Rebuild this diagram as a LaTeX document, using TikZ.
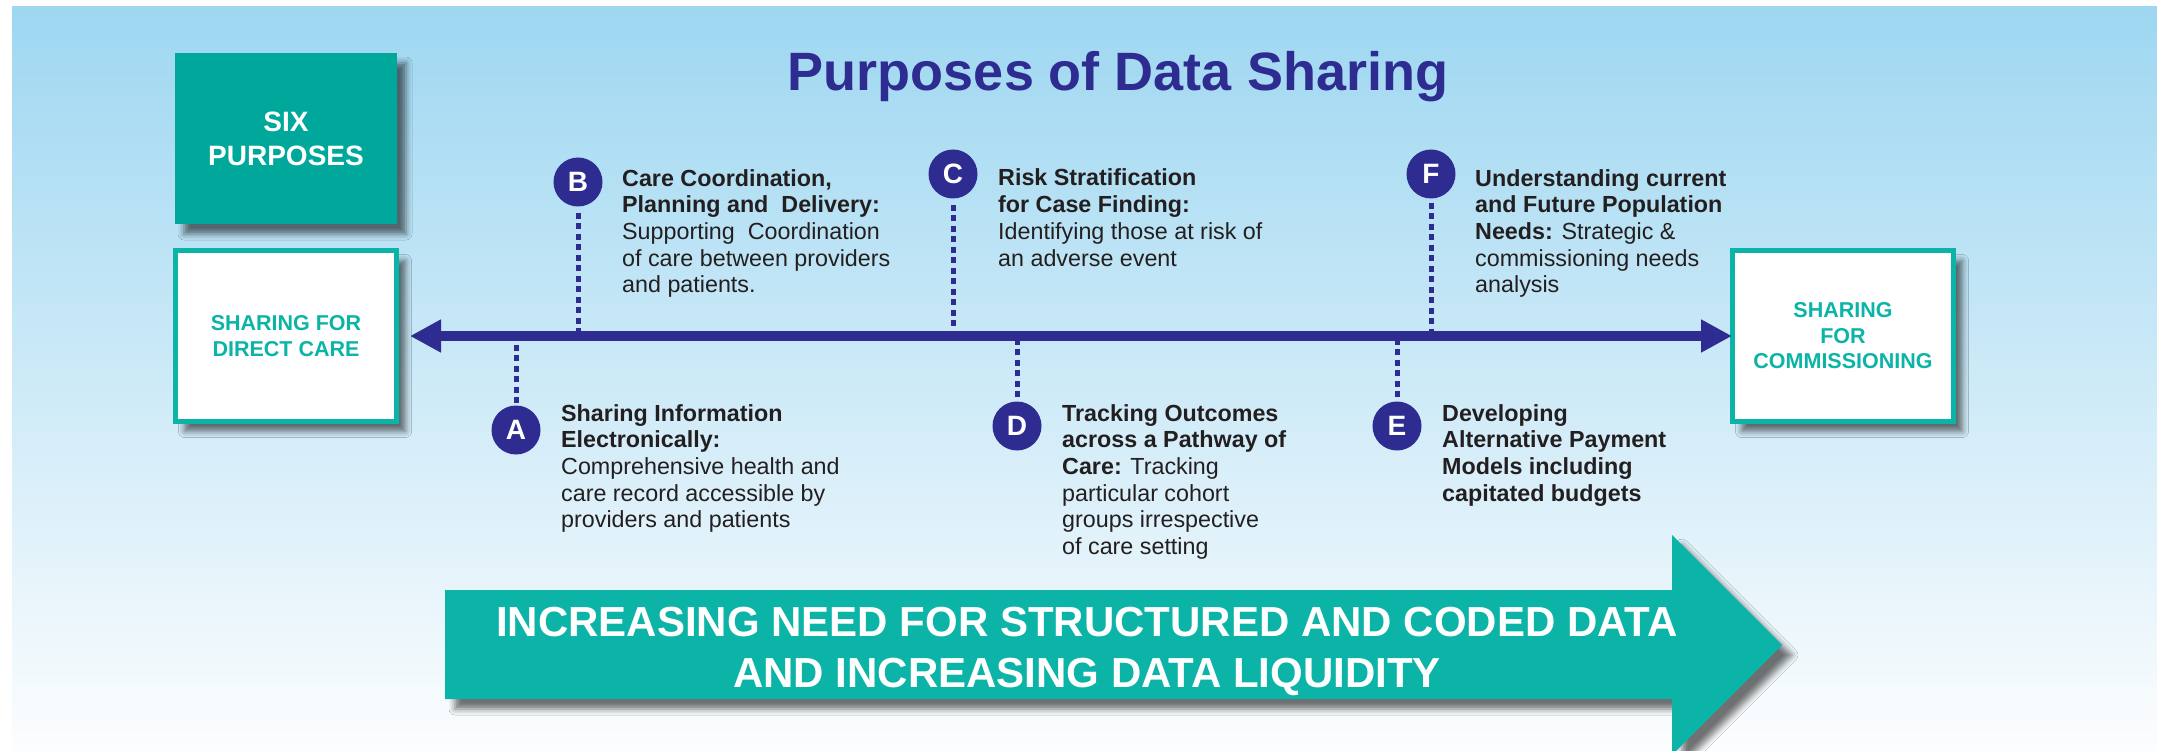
\documentclass[tikz,border=0pt]{standalone}
\usepackage{fontspec}
\setmainfont{Liberation Sans}
\usetikzlibrary{arrows.meta,shadows.blur}
\definecolor{navy}{RGB}{46,43,145}
\definecolor{tealA}{RGB}{0,168,156}
\definecolor{tealB}{RGB}{12,180,168}
\definecolor{bgtop}{RGB}{158,215,241}
\definecolor{bgbot}{RGB}{252,253,254}
\definecolor{bodytext}{RGB}{35,31,32}
\tikzset{
  boxshadow/.style={blur shadow={shadow xshift=9pt,shadow yshift=-10pt,shadow blur radius=6pt,shadow opacity=55}},
  sixbox/.style={fill=tealA,minimum width=222pt,minimum height=171pt,inner sep=0,text=white,
    font=\bfseries\fontsize{28}{34}\selectfont,align=center,boxshadow},
  sharebox/.style={draw=tealB,line width=5pt,fill=white,minimum width=221pt,minimum height=171pt,inner sep=0,
    text=tealB,font=\bfseries\fontsize{21.5}{25.5}\selectfont,align=center,boxshadow},
  letter/.style={circle,fill=navy,minimum size=49pt,inner sep=0,text=white,font=\bfseries\fontsize{28}{28}\selectfont},
  desc/.style={anchor=base west,inner sep=0,align=left,text=bodytext,font=\fontsize{23.3}{26.7}\selectfont},
  dotline/.style={navy,line width=5pt,dash pattern=on 6pt off 4.5pt},
  mainline/.style={navy,line width=10pt,{Triangle[length=31pt,width=31pt]}-{Triangle[length=31pt,width=31pt]}},
  bigtext/.style={anchor=base,inner sep=0,align=center,text=white,font=\bfseries\fontsize{42}{51}\selectfont},
  titletext/.style={anchor=base,inner sep=0,text=navy,font=\bfseries\fontsize{54}{54}\selectfont}
}
\begin{document}
\begin{tikzpicture}[x=1pt,y=-1pt]
\useasboundingbox (0,0) rectangle (2157,751);
\fill[white] (0,0) rectangle (2157,751);
\shade[top color=bgtop,bottom color=bgbot] (12,7) rectangle (2157,751);

% title
\node[titletext] (title) at (1118,91) {Purposes of Data Sharing};

% boxes
\node[sixbox] (six) at (286,138.5) {SIX\\PURPOSES};
\node[sharebox] (direct) at (286,336) {SHARING FOR\\DIRECT CARE};
\node[sharebox] (comm) at (1843,336) {SHARING\\FOR\\COMMISSIONING};

% letters
\node[letter] (B) at (578,182) {B};
\node[letter] (C) at (953,174) {C};
\node[letter] (F) at (1431,174) {F};
\node[letter] (A) at (516,430) {A};
\node[letter] (D) at (1017,426) {D};
\node[letter] (E) at (1397,426) {E};

% dotted connectors
\draw[dotline] ([yshift=-6pt]B.south) -- (B.south |- direct.center);
\draw[dotline] ([yshift=-6pt]C.south) -- (C.south |- direct.center);
\draw[dotline] ([yshift=-4pt]F.south) -- (F.south |- direct.center);
\draw[dotline] ([yshift=2pt]A.north) -- (A.north |- direct.center);
\draw[dotline] ([yshift=4pt]D.north) -- (D.north |- direct.center);
\draw[dotline] ([yshift=4pt]E.north) -- (E.north |- direct.center);

% main double arrow
\draw[mainline] ([xshift=11pt]direct.east) -- ([xshift=2pt]comm.west);

% descriptions (anchored at the baseline of their last line)
\node[desc] (tB) at (622,292.8) {\textbf{Care Coordination,}\\\textbf{Planning and\ \ Delivery:}\\Supporting\ \ Coordination\\of care between providers\\and patients.};
\node[desc] (tC) at (998,266.1) {\textbf{Risk Stratification}\\\textbf{for Case Finding:}\\Identifying those at risk of\\an adverse event};
\node[desc] (tF) at (1475,292.8) {\textbf{Understanding current}\\\textbf{and Future Population}\\\textbf{Needs:} Strategic \&\\commissioning needs\\analysis};
\node[desc] (tA) at (561,527.8) {\textbf{Sharing Information}\\\textbf{Electronically:}\\Comprehensive health and\\care record accessible by\\providers and patients};
\node[desc] (tD) at (1062,554.5) {\textbf{Tracking Outcomes}\\\textbf{across a Pathway of}\\\textbf{Care:} Tracking\\particular cohort\\groups irrespective\\of care setting};
\node[desc] (tE) at (1442,501.1) {\textbf{Developing}\\\textbf{Alternative Payment}\\\textbf{Models including}\\\textbf{capitated budgets}};

% big arrow
\fill[tealB,blur shadow={shadow xshift=10pt,shadow yshift=-10pt,shadow blur radius=6pt,shadow opacity=55}]
  (445,590) -- (1672,590) -- (1672,535) -- (1782,645) -- (1672,755) -- (1672,699) -- (445,699) -- cycle;
\node[bigtext] (need) at (1087,687) {INCREASING NEED FOR STRUCTURED AND CODED DATA\\AND INCREASING DATA LIQUIDITY};
\end{tikzpicture}
\end{document}
